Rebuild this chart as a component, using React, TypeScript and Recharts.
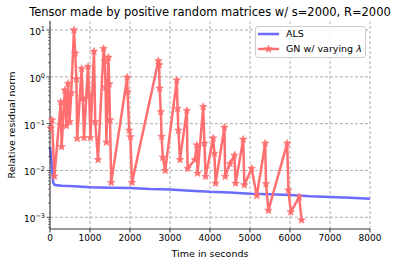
import { LineChart, Line, XAxis, YAxis, CartesianGrid } from 'recharts';

const BLUE = '#6b6bff';
const RED = '#ff6f6f';
const AXIS = '#333';

// ALS: time (s) vs relative residual
const ALS_T = [0, 40, 80, 120, 300, 600, 1000, 1500, 2000, 2500, 3000, 3500, 4000, 4500, 5000, 5500, 6000, 6500, 7000, 7500, 8000];
const ALS_V = [0.032, 0.015, 0.0055, 0.0049, 0.0047, 0.0046, 0.0044, 0.0043, 0.0042, 0.004, 0.0039, 0.0037, 0.0035, 0.0034, 0.0032, 0.0031, 0.003, 0.0028, 0.0027, 0.0026, 0.0025];

// GN w/ varying lambda
const GN_T = [20, 50, 110, 270, 290, 370, 410, 450, 490, 530, 600, 630, 660, 680, 790, 820, 850, 950, 980, 1010, 1100, 1130, 1200, 1340, 1370, 1390, 1410, 1460, 1480, 1500, 1530, 1930, 1940, 1980, 2010, 2050, 2710, 2730, 2740, 2770, 2790, 2820, 2880, 3170, 3190, 3210, 3250, 3420, 3440, 3620, 3670, 3690, 3830, 3860, 3890, 4080, 4110, 4140, 4360, 4380, 4500, 4610, 4640, 4830, 4860, 5040, 5170, 5380, 5400, 5460, 5930, 5960, 6020, 6230, 6290];
const GN_V = [0.08, 0.12, 0.0075, 0.29, 0.032, 0.52, 0.09, 0.72, 0.11, 0.45, 10, 3.2, 0.9, 0.048, 1.5, 0.35, 0.05, 1.65, 0.4, 0.05, 3.5, 0.11, 0.017, 4.0, 2.2, 0.6, 0.04, 2.6, 0.7, 0.12, 0.0055, 0.98, 0.48, 0.072, 0.052, 0.0055, 2.2, 1.8, 0.57, 0.18, 0.053, 0.019, 0.01, 0.85, 0.21, 0.072, 0.017, 0.19, 0.011, 0.017, 0.035, 0.0087, 0.23, 0.038, 0.0074, 0.049, 0.023, 0.0053, 0.083, 0.0074, 0.014, 0.021, 0.0053, 0.046, 0.0049, 0.011, 0.0029, 0.038, 0.0052, 0.0014, 0.038, 0.0038, 0.0013, 0.0027, 0.00087];

const X_TICKS = [0, 1000, 2000, 3000, 4000, 5000, 6000, 7000, 8000];
const Y_TICKS = [0.001, 0.01, 0.1, 1, 10];
const Y_MINOR = [
    0.0006, 0.0007, 0.0008, 0.0009,
    0.002, 0.003, 0.004, 0.005, 0.006, 0.007, 0.008, 0.009,
    0.02, 0.03, 0.04, 0.05, 0.06, 0.07, 0.08, 0.09,
    0.2, 0.3, 0.4, 0.5, 0.6, 0.7, 0.8, 0.9,
    2, 3, 4, 5, 6, 7, 8, 9,
];
const Y_DOMAIN = [0.000562, 15.6];

const alsData = ALS_T.map((t, i) => ({ t, v: ALS_V[i] }));
const gnData = GN_T.map((t, i) => ({ t, v: GN_V[i] }));

const Star = ({ cx, cy, index }: any) => {
    if (cx == null || cy == null) return null;
    const pts: string[] = [];
    for (let i = 0; i < 10; i++) {
        const r = i % 2 === 0 ? 4 : 1.7;
        const a = -Math.PI / 2 + (i * Math.PI) / 5;
        pts.push(`${cx + r * Math.cos(a)},${cy + r * Math.sin(a)}`);
    }
    return <polygon key={`star-${index}`} points={pts.join(' ')} fill={RED} stroke={RED} strokeWidth={0.5} />;
};

// log axis tick: major ones get a 10^k label, minor ones just a short line
const YTick = ({ x, y, payload }: any) => {
    const v = payload.value;
    if (!Y_TICKS.includes(v)) {
        return <line x1={x - 2} x2={x} y1={y} y2={y} stroke={AXIS} strokeWidth={0.6} />;
    }
    const exp = Math.round(Math.log10(v));
    return (
        <g>
            <line x1={x - 3.5} x2={x} y1={y} y2={y} stroke={AXIS} strokeWidth={0.8} />
            <text x={x - 5} y={y + 5} textAnchor="end" fontSize={9} fill="#000">
                10<tspan dy={-4} fontSize={6.5}>{exp < 0 ? `\u2212${-exp}` : `${exp}`}</tspan>
            </text>
        </g>
    );
};

export default function App() {
    return (
        <div style={{ position: 'absolute', left: 0, top: 0, width: 399, height: 266, fontFamily: 'DejaVu Sans', background: '#fff' }}>
            <div style={{ position: 'absolute', left: 0, top: 4.5, width: 420, textAlign: 'center', fontSize: 11.5, lineHeight: '14px', color: '#000', whiteSpace: 'nowrap', zIndex: 2 }}>
                Tensor made by positive random matrices w/ s=2000, R=2000
            </div>

            <LineChart width={399} height={266} margin={{ top: 21, right: 29, bottom: 0, left: 0 }} style={{ fontFamily: 'DejaVu Sans' }}>
                <CartesianGrid stroke="#9a9a9a" strokeDasharray="3 2" strokeWidth={0.8} horizontalValues={Y_TICKS} verticalValues={X_TICKS} />
                <XAxis
                    dataKey="t"
                    type="number"
                    domain={[0, 8000]}
                    ticks={X_TICKS}
                    interval={0}
                    height={37}
                    tickSize={3.5}
                    tickMargin={2}
                    tick={{ fill: '#000', fontSize: 9 }}
                    tickLine={{ stroke: AXIS }}
                    axisLine={{ stroke: AXIS }}
                    label={{ value: 'Time in seconds', position: 'insideBottom', offset: 9.5, fill: '#000', fontSize: 9.5 }}
                />
                <XAxis xAxisId="top" orientation="top" type="number" domain={[0, 8000]} height={0} tick={false} tickLine={false} axisLine={{ stroke: AXIS }} />
                <YAxis
                    type="number"
                    scale="log"
                    domain={Y_DOMAIN}
                    allowDataOverflow
                    ticks={[...Y_TICKS, ...Y_MINOR]}
                    interval={0}
                    width={50}
                    tickSize={0}
                    tickMargin={0}
                    tickLine={false}
                    tick={<YTick />}
                    axisLine={{ stroke: AXIS }}
                    label={{ value: 'Relative residual norm', angle: -90, position: 'insideLeft', offset: 12, fill: '#000', fontSize: 9.5, style: { textAnchor: 'middle' } }}
                />
                <YAxis yAxisId="right" orientation="right" type="number" domain={[0, 1]} width={0} tick={false} tickLine={false} axisLine={{ stroke: AXIS }} />
                <Line data={alsData} dataKey="v" type="linear" stroke={BLUE} strokeWidth={2.5} dot={false} activeDot={false} isAnimationActive={false} />
                <Line data={gnData} dataKey="v" type="linear" stroke={RED} strokeWidth={2.5} dot={(p: any) => <Star {...p} />} activeDot={false} isAnimationActive={false} />
            </LineChart>

            {/* legend box, upper right */}
            <div style={{ position: 'absolute', left: 255, top: 26, width: 109, height: 30, border: '1px solid #ccc', borderRadius: 3, background: 'rgba(255,255,255,0.85)', fontSize: 9.5, color: '#000' }}>
                <div style={{ position: 'absolute', left: 2, top: 0, height: 13, display: 'flex', alignItems: 'center' }}>
                    <svg width={21} height={8}><line x1={0} x2={21} y1={4} y2={4} stroke={BLUE} strokeWidth={2.5} /></svg>
                    <span style={{ marginLeft: 7 }}>ALS</span>
                </div>
                <div style={{ position: 'absolute', left: 2, top: 15, height: 13, display: 'flex', alignItems: 'center', whiteSpace: 'nowrap' }}>
                    <svg width={21} height={8}>
                        <line x1={0} x2={21} y1={4} y2={4} stroke={RED} strokeWidth={2.5} />
                        <Star cx={10.5} cy={4} index={0} />
                    </svg>
                    <span style={{ marginLeft: 7 }}>GN w/ varying <i>λ</i></span>
                </div>
            </div>
        </div>
    );
}
